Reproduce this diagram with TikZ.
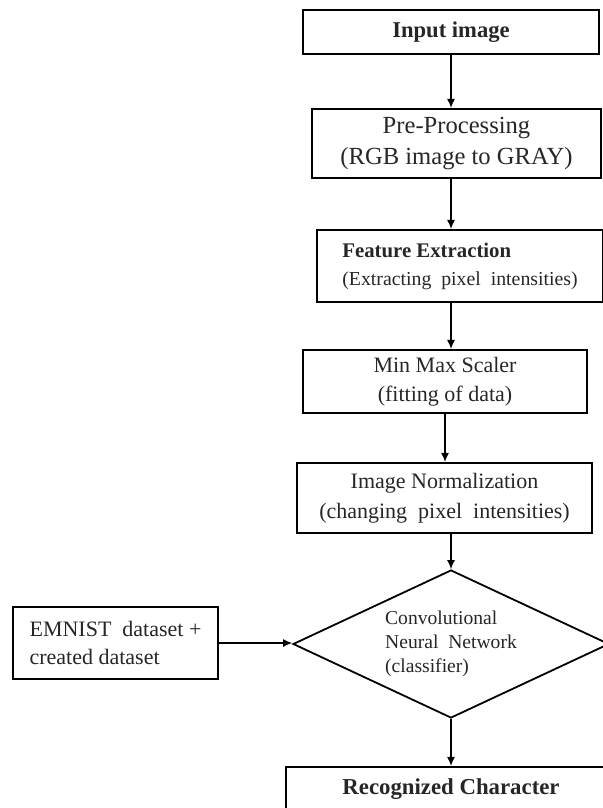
\documentclass[tikz,border=0pt]{standalone}
\usepackage{fontspec}
\setmainfont{Liberation Serif}
\usetikzlibrary{shapes.geometric, arrows.meta}

\begin{document}
\begin{tikzpicture}[x=0.5pt, y=-0.5pt,
        box/.style={draw, line width=1.1pt, inner sep=0pt, align=center, text=black!85},
        arr/.style={-{Latex[length=4.5pt, width=4pt]}, line width=0.6pt}]
        \useasboundingbox (0, 0) rectangle (603, 808);

        \node[box, minimum width=148pt, minimum height=22pt,
            font=\fontsize{11.3}{14}\selectfont\bfseries] (in) at (451, 32) {Input image};
        \node[box, minimum width=144.5pt, minimum height=34.5pt,
            font=\fontsize{12.3}{15.5}\selectfont] (pre) at (456.5, 143.5)
            {Pre-Processing\\(RGB image to GRAY)};
        \node[box, minimum width=143pt, minimum height=36pt, align=left,
            font=\fontsize{10.4}{14}\selectfont\bfseries] (feat) at (460, 266)
            {Feature Extraction\\
             \fontsize{9.9}{14}\selectfont\mdseries (Extracting\ \ pixel\ \ intensities)};
        \node[box, minimum width=142pt, minimum height=31.5pt,
            font=\fontsize{11}{14.5}\selectfont] (mms) at (445, 381.5)
            {Min Max Scaler\\(fitting of data)};
        \node[box, minimum width=147.5pt, minimum height=35pt,
            font=\fontsize{11}{15}\selectfont] (norm) at (444.5, 498)
            {Image Normalization\\(changing\ \ pixel\ \ intensities)};

        \node[draw, diamond, aspect=2.135, minimum width=158pt, minimum height=74pt,
            inner sep=0pt, line width=0.9pt, align=left, text=black!85,
            font=\fontsize{9.8}{12}\selectfont] (cnn) at (451, 644)
            {Convolutional\\Neural\ \ Network\\(classifier)};

        \node[box, minimum width=102.5pt, minimum height=36pt, align=left,
            font=\fontsize{11}{14}\selectfont] (emn) at (115.5, 643)
            {EMNIST\ \ dataset +\\created dataset\vphantom{\Large X}};

        \node[box, minimum width=165pt, minimum height=22pt,
            font=\fontsize{11.4}{14}\selectfont\bfseries] (reco) at (451, 789)
            {Recognized Character};

        \draw[arr] (in.south) -- (in.south |- pre.north);
        \draw[arr] (pre.south -| in) -- (feat.north -| in);
        \draw[arr] (feat.south -| in) -- (mms.north -| in);
        \draw[arr] (mms.south) -- (mms.south |- norm.north);
        \draw[arr] (norm.south -| cnn) -- (cnn.north);
        \draw[arr] (emn.east) -- (emn.east -| cnn.west);
        \draw[arr] (cnn.south) -- (reco.north);
    \end{tikzpicture}
\end{document}
